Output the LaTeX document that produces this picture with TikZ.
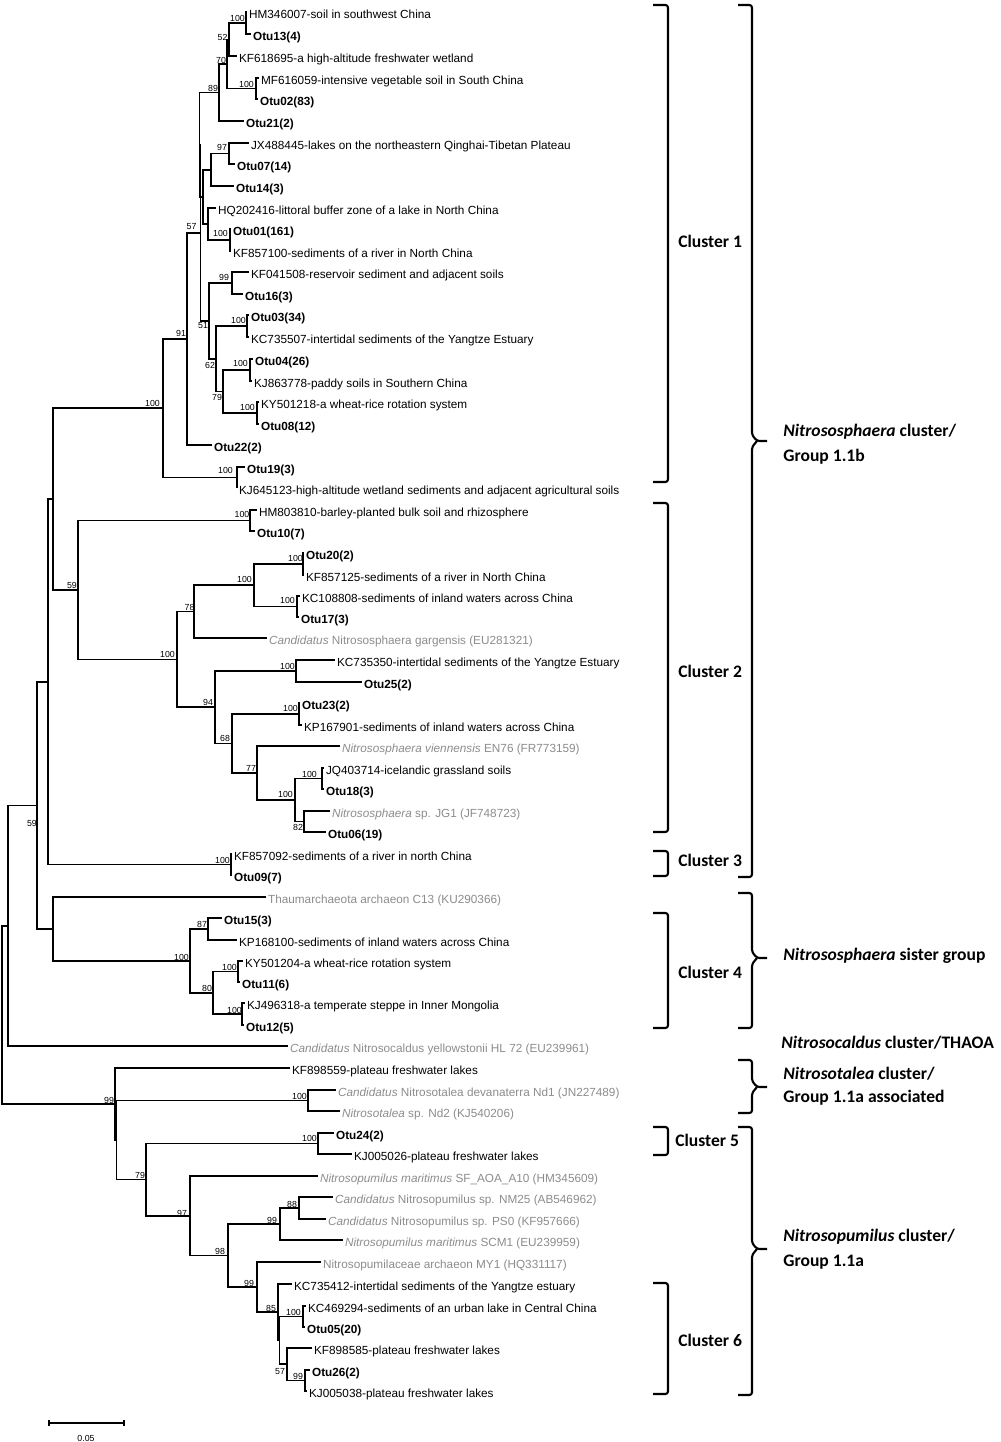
\documentclass[tikz,border=0pt]{standalone}
\usepackage{fontspec}
\setmainfont{Liberation Sans}
\newfontfamily\calfont{Carlito}
\usepackage{xcolor}
\usetikzlibrary{positioning,calc,arrows.meta}
\definecolor{refgrey}{RGB}{140,140,140}
\tikzset{
  br/.style={line width=0.95pt},
  brk/.style={line width=1.2pt, rounded corners=1.5pt},
  leaf/.style={anchor=west, inner xsep=1pt, inner ysep=0pt, text height=0.72em, text depth=0.02em, font=\fontsize{6.7}{7}\selectfont},
  otu/.style={leaf, font=\fontsize{6.7}{7}\selectfont\bfseries},
  ref/.style={leaf, text=refgrey},
  bs/.style={inner sep=0pt, font=\fontsize{5}{5}\selectfont},
  clus/.style={anchor=west, inner sep=0pt, font=\calfont\bfseries\fontsize{10}{12}\selectfont},
}

\begin{document}
\begin{tikzpicture}[x=0.02cm,y=-0.02cm]
\useasboundingbox (0,0) rectangle (1000,1442);
% leaves
\node[leaf] (l01) at (247,12) {HM346007-soil in southwest China};
\node[otu]  (l02) at (251,34) {Otu13(4)};
\node[leaf] (l03) at (237,56) {KF618695-a high-altitude freshwater wetland};
\node[leaf] (l04) at (259,78) {MF616059-intensive vegetable soil in South China};
\node[otu]  (l05) at (258,99) {Otu02(83)};
\node[otu]  (l06) at (244,121) {Otu21(2)};
\node[leaf] (l07) at (249,143) {JX488445-lakes on the northeastern Qinghai-Tibetan Plateau};
\node[otu]  (l08) at (235,164) {Otu07(14)};
\node[otu]  (l09) at (234,186) {Otu14(3)};
\node[leaf] (l10) at (216,208) {HQ202416-littoral buffer zone of a lake in North China};
\node[otu]  (l11) at (231,229) {Otu01(161)};
\node[leaf] (l12) at (231,251) {KF857100-sediments of a river in North China};
\node[leaf] (l13) at (249,272) {KF041508-reservoir sediment and adjacent soils};
\node[otu]  (l14) at (243,294) {Otu16(3)};
\node[otu]  (l15) at (249,315) {Otu03(34)};
\node[leaf] (l16) at (249,337) {KC735507-intertidal sediments of the Yangtze Estuary};
\node[otu]  (l17) at (253,359) {Otu04(26)};
\node[leaf] (l18) at (252,381) {KJ863778-paddy soils in Southern China};
\node[leaf] (l19) at (259,402) {KY501218-a wheat-rice rotation system};
\node[otu]  (l20) at (259,424) {Otu08(12)};
\node[otu]  (l21) at (212,445) {Otu22(2)};
\node[otu]  (l22) at (245,467) {Otu19(3)};
\node[leaf] (l23) at (237,488) {KJ645123-high-altitude wetland sediments and adjacent agricultural soils};
\node[leaf] (l24) at (257,510) {HM803810-barley-planted bulk soil and rhizosphere};
\node[otu]  (l25) at (255,531) {Otu10(7)};
\node[otu]  (l26) at (304,553) {Otu20(2)};
\node[leaf] (l27) at (304,575) {KF857125-sediments of a river in North China};
\node[leaf] (l28) at (300,596) {KC108808-sediments of inland waters across China};
\node[otu]  (l29) at (299,617) {Otu17(3)};
\node[ref]  (l30) at (267,638) {\textit{Candidatus} Nitrososphaera gargensis (EU281321)};
\node[leaf] (l31) at (335,660) {KC735350-intertidal sediments of the Yangtze Estuary};
\node[otu]  (l32) at (362,682) {Otu25(2)};
\node[otu]  (l33) at (300,703) {Otu23(2)};
\node[leaf] (l34) at (302,725) {KP167901-sediments of inland waters across China};
\node[ref]  (l35) at (340,746) {\textit{Nitrososphaera viennensis} EN76 (FR773159)};
\node[leaf] (l36) at (324,768) {JQ403714-icelandic grassland soils};
\node[otu]  (l37) at (324,789) {Otu18(3)};
\node[ref]  (l38) at (330,811) {\textit{Nitrososphaera} sp. JG1 (JF748723)};
\node[otu]  (l39) at (326,832) {Otu06(19)};
\node[leaf] (l40) at (232,854) {KF857092-sediments of a river in north China};
\node[otu]  (l41) at (232,875) {Otu09(7)};
\node[ref]  (l42) at (266,897) {Thaumarchaeota archaeon C13 (KU290366)};
\node[otu]  (l43) at (222,918) {Otu15(3)};
\node[leaf] (l44) at (237,940) {KP168100-sediments of inland waters across China};
\node[leaf] (l45) at (243,961) {KY501204-a wheat-rice rotation system};
\node[otu]  (l46) at (240,982) {Otu11(6)};
\node[leaf] (l47) at (245,1003) {KJ496318-a temperate steppe in Inner Mongolia};
\node[otu]  (l48) at (244,1025) {Otu12(5)};
\node[ref]  (l49) at (288,1046) {\textit{Candidatus} Nitrosocaldus yellowstonii HL 72 (EU239961)};
\node[leaf] (l50) at (290,1068) {KF898559-plateau freshwater lakes};
\node[ref]  (l51) at (336,1090) {\textit{Candidatus} Nitrosotalea devanaterra Nd1 (JN227489)};
\node[ref]  (l52) at (340,1111) {\textit{Nitrosotalea} sp. Nd2 (KJ540206)};
\node[otu]  (l53) at (334,1133) {Otu24(2)};
\node[leaf] (l54) at (352,1154) {KJ005026-plateau freshwater lakes};
\node[ref]  (l55) at (318,1176) {\textit{Nitrosopumilus maritimus} SF\_AOA\_A10 (HM345609)};
\node[ref]  (l56) at (333,1197) {\textit{Candidatus} Nitrosopumilus sp. NM25 (AB546962)};
\node[ref]  (l57) at (326,1219) {\textit{Candidatus} Nitrosopumilus sp. PS0 (KF957666)};
\node[ref]  (l58) at (343,1240) {\textit{Nitrosopumilus maritimus} SCM1 (EU239959)};
\node[ref]  (l59) at (321,1262) {Nitrosopumilaceae archaeon MY1 (HQ331117)};
\node[leaf] (l60) at (292,1284) {KC735412-intertidal sediments of the Yangtze estuary};
\node[leaf] (l61) at (306,1306) {KC469294-sediments of an urban lake in Central China};
\node[otu]  (l62) at (305,1327) {Otu05(20)};
\node[leaf] (l63) at (312,1348) {KF898585-plateau freshwater lakes};
\node[otu]  (l64) at (310,1370) {Otu26(2)};
\node[leaf] (l65) at (307,1391) {KJ005038-plateau freshwater lakes};

% inner nodes
\coordinate (nA1) at (246,23);
\coordinate (nA2) at (229,39.5);
\coordinate (nA3) at (256,88.5);
\coordinate (nA4) at (227,64);
\coordinate (nA5) at (219,92.5);
\coordinate (nB1) at (229,153.5);
\coordinate (nB2) at (211,169.8);
\coordinate (nB3) at (230,240);
\coordinate (nB4) at (208,224);
\coordinate (nB5) at (203,196.9);
\coordinate (nB6) at (199.5,144.7);
\coordinate (nC1) at (232,283);
\coordinate (nC2) at (247,326);
\coordinate (nC3) at (250,370);
\coordinate (nC4) at (257,413);
\coordinate (nC5) at (223,391.5);
\coordinate (nC6) at (216,358.8);
\coordinate (nC7) at (209,320.9);
\coordinate (nD1) at (200.5,232.8);
\coordinate (nD2) at (187,338.9);
\coordinate (nD3) at (237,477.5);
\coordinate (nD4) at (163,408.2);
\coordinate (nE1) at (250,520.5);
\coordinate (nE2) at (303,564);
\coordinate (nE3) at (297,606.5);
\coordinate (nE4) at (254,585.3);
\coordinate (nE5) at (194,611.6);
\coordinate (nE6) at (296,671);
\coordinate (nE7) at (299,714);
\coordinate (nE8) at (322,778.5);
\coordinate (nE9) at (304,821.5);
\coordinate (nE10) at (295,800);
\coordinate (nE11) at (257,773);
\coordinate (nE12) at (232,743.5);
\coordinate (nE13) at (215,707.3);
\coordinate (nE14) at (177,659.4);
\coordinate (nE15) at (78,590);
\coordinate (nF1) at (53,499.1);
\coordinate (nF2) at (231,864.5);
\coordinate (nF3) at (48,681.8);
\coordinate (nG1) at (208,929);
\coordinate (nG2) at (238,971.5);
\coordinate (nG3) at (242,1014);
\coordinate (nG4) at (213,992.8);
\coordinate (nG5) at (190,960.9);
\coordinate (nG6) at (53,929);
\coordinate (nH1) at (37,805.4);
\coordinate (nH2) at (8,925.7);
\coordinate (nJ1) at (308,1100.5);
\coordinate (nJ2) at (318,1143.5);
\coordinate (nJ3) at (299,1208);
\coordinate (nJ4) at (280,1224);
\coordinate (nJ5) at (303,1316.5);
\coordinate (nJ6) at (305,1380.5);
\coordinate (nJ7) at (287,1364.3);
\coordinate (nJ8) at (279.5,1340.4);
\coordinate (nJ9) at (278,1312.2);
\coordinate (nJ10) at (257,1287.1);
\coordinate (nJ11) at (228,1255.5);
\coordinate (nJ12) at (190,1215.8);
\coordinate (nJ13) at (146,1179.6);
\coordinate (nJ14) at (116.5,1140);
\coordinate (nJ15) at (115,1104);
\coordinate (root) at (2,1014.9);

% branches
\draw[br] (nA1) |- (l01.west) (nA1) |- (l02.west);
\draw[br] (nA2) |- (nA1) (nA2) |- (l03.west);
\draw[br] (nA3) |- (l04.west) (nA3) |- (l05.west);
\draw[br] (nA4) |- (nA2) (nA4) |- (nA3);
\draw[br] (nA5) |- (nA4) (nA5) |- (l06.west);
\draw[br] (nB1) |- (l07.west) (nB1) |- (l08.west);
\draw[br] (nB2) |- (nB1) (nB2) |- (l09.west);
\draw[br] (nB3) |- (l11.west) (nB3) |- (l12.west);
\draw[br] (nB4) |- (l10.west) (nB4) |- (nB3);
\draw[br] (nB5) |- (nB2) (nB5) |- (nB4);
\draw[br] (nB6) |- (nA5) (nB6) |- (nB5);
\draw[br] (nC1) |- (l13.west) (nC1) |- (l14.west);
\draw[br] (nC2) |- (l15.west) (nC2) |- (l16.west);
\draw[br] (nC3) |- (l17.west) (nC3) |- (l18.west);
\draw[br] (nC4) |- (l19.west) (nC4) |- (l20.west);
\draw[br] (nC5) |- (nC3) (nC5) |- (nC4);
\draw[br] (nC6) |- (nC2) (nC6) |- (nC5);
\draw[br] (nC7) |- (nC1) (nC7) |- (nC6);
\draw[br] (nD1) |- (nB6) (nD1) |- (nC7);
\draw[br] (nD2) |- (nD1) (nD2) |- (l21.west);
\draw[br] (nD3) |- (l22.west) (nD3) |- (l23.west);
\draw[br] (nD4) |- (nD2) (nD4) |- (nD3);
\draw[br] (nE1) |- (l24.west) (nE1) |- (l25.west);
\draw[br] (nE2) |- (l26.west) (nE2) |- (l27.west);
\draw[br] (nE3) |- (l28.west) (nE3) |- (l29.west);
\draw[br] (nE4) |- (nE2) (nE4) |- (nE3);
\draw[br] (nE5) |- (nE4) (nE5) |- (l30.west);
\draw[br] (nE6) |- (l31.west) (nE6) |- (l32.west);
\draw[br] (nE7) |- (l33.west) (nE7) |- (l34.west);
\draw[br] (nE8) |- (l36.west) (nE8) |- (l37.west);
\draw[br] (nE9) |- (l38.west) (nE9) |- (l39.west);
\draw[br] (nE10) |- (nE8) (nE10) |- (nE9);
\draw[br] (nE11) |- (l35.west) (nE11) |- (nE10);
\draw[br] (nE12) |- (nE7) (nE12) |- (nE11);
\draw[br] (nE13) |- (nE6) (nE13) |- (nE12);
\draw[br] (nE14) |- (nE5) (nE14) |- (nE13);
\draw[br] (nE15) |- (nE1) (nE15) |- (nE14);
\draw[br] (nF1) |- (nD4) (nF1) |- (nE15);
\draw[br] (nF2) |- (l40.west) (nF2) |- (l41.west);
\draw[br] (nF3) |- (nF1) (nF3) |- (nF2);
\draw[br] (nG1) |- (l43.west) (nG1) |- (l44.west);
\draw[br] (nG2) |- (l45.west) (nG2) |- (l46.west);
\draw[br] (nG3) |- (l47.west) (nG3) |- (l48.west);
\draw[br] (nG4) |- (nG2) (nG4) |- (nG3);
\draw[br] (nG5) |- (nG1) (nG5) |- (nG4);
\draw[br] (nG6) |- (l42.west) (nG6) |- (nG5);
\draw[br] (nH1) |- (nF3) (nH1) |- (nG6);
\draw[br] (nH2) |- (nH1) (nH2) |- (l49.west);
\draw[br] (nJ1) |- (l51.west) (nJ1) |- (l52.west);
\draw[br] (nJ2) |- (l53.west) (nJ2) |- (l54.west);
\draw[br] (nJ3) |- (l56.west) (nJ3) |- (l57.west);
\draw[br] (nJ4) |- (nJ3) (nJ4) |- (l58.west);
\draw[br] (nJ5) |- (l61.west) (nJ5) |- (l62.west);
\draw[br] (nJ6) |- (l64.west) (nJ6) |- (l65.west);
\draw[br] (nJ7) |- (l63.west) (nJ7) |- (nJ6);
\draw[br] (nJ8) |- (nJ5) (nJ8) |- (nJ7);
\draw[br] (nJ9) |- (l60.west) (nJ9) |- (nJ8);
\draw[br] (nJ10) |- (l59.west) (nJ10) |- (nJ9);
\draw[br] (nJ11) |- (nJ4) (nJ11) |- (nJ10);
\draw[br] (nJ12) |- (l55.west) (nJ12) |- (nJ11);
\draw[br] (nJ13) |- (nJ2) (nJ13) |- (nJ12);
\draw[br] (nJ14) |- (nJ1) (nJ14) |- (nJ13);
\draw[br] (nJ15) |- (l50.west) (nJ15) |- (nJ14);
\draw[br] (root) |- (nH2) (root) |- (nJ15);

% bootstrap values
\node[bs] (bA1) at (237.5,18) {100};
\node[bs] (bA2) at (222.5,37) {52};
\node[bs] (bA4) at (221,60) {70};
\node[bs] (bA3) at (246.5,84) {100};
\node[bs] (bA5) at (213,88) {89};
\node[bs] (bB1) at (222,147) {97};
\node[bs] (bD1) at (191.5,227) {57};
\node[bs] (bB3) at (220.5,233) {100};
\node[bs] (bC1) at (224,277) {99};
\node[bs] (bC7) at (203,326) {51};
\node[bs] (bC2) at (238.5,320) {100};
\node[bs] (bC6) at (210,365) {62};
\node[bs] (bC3) at (240.5,363) {100};
\node[bs] (bC5) at (217,397) {79};
\node[bs] (bC4) at (247.5,407) {100};
\node[bs] (bD2) at (181,333) {91};
\node[bs] (bD4) at (152.5,403) {100};
\node[bs] (bD3) at (225.5,470) {100};
\node[bs] (bE1) at (242,514) {100};
\node[bs] (bE15) at (72,585) {59};
\node[bs] (bE14) at (167.5,654) {100};
\node[bs] (bE5) at (189.5,607) {78};
\node[bs] (bE4) at (244.5,579) {100};
\node[bs] (bE2) at (295.5,558) {100};
\node[bs] (bE3) at (287.5,600) {100};
\node[bs] (bE6) at (287.5,666) {100};
\node[bs] (bE13) at (208,702) {94};
\node[bs] (bE7) at (290.5,708) {100};
\node[bs] (bE12) at (225,738) {68};
\node[bs] (bE11) at (251,768) {77};
\node[bs] (bE10) at (285.5,794) {100};
\node[bs] (bE8) at (309.5,774) {100};
\node[bs] (bE9) at (298,827) {82};
\node[bs] (bF2) at (222.5,860) {100};
\node[bs] (bH1) at (32,823) {59};
\node[bs] (bG5) at (181.5,957) {100};
\node[bs] (bG1) at (202,924) {87};
\node[bs] (bG4) at (207,988) {80};
\node[bs] (bG2) at (229.5,967) {100};
\node[bs] (bG3) at (234.5,1010) {100};
\node[bs] (bJ15) at (109,1100) {99};
\node[bs] (bJ1) at (299.5,1096) {100};
\node[bs] (bJ13) at (140,1175) {79};
\node[bs] (bJ2) at (309.5,1138) {100};
\node[bs] (bJ12) at (182,1213) {97};
\node[bs] (bJ11) at (220,1251) {98};
\node[bs] (bJ4) at (272,1220) {99};
\node[bs] (bJ3) at (292,1204) {88};
\node[bs] (bJ10) at (249,1283) {99};
\node[bs] (bJ9) at (271,1308) {85};
\node[bs] (bJ5) at (293.5,1312) {100};
\node[bs] (bJ7) at (280,1372) {57};
\node[bs] (bJ6) at (298,1376) {99};

% cluster brackets
\draw[brk] (653,5) -- (668,5) -- (668,482) -- (653,482);
\draw[brk] (653,503) -- (668,503) -- (668,832) -- (653,832);
\draw[brk] (653,851) -- (668,851) -- (668,876) -- (653,876);
\draw[brk] (653,913) -- (668,913) -- (668,1028) -- (653,1028);
\draw[brk] (653,1127) -- (668,1127) -- (668,1155) -- (653,1155);
\draw[brk] (653,1283) -- (668,1283) -- (668,1394) -- (653,1394);
\node[clus] (c1) at (678,241) {Cluster 1};
\node[clus] (c2) at (678,671) {Cluster 2};
\node[clus] (c3) at (678,860) {Cluster 3};
\node[clus] (c4) at (678,972) {Cluster 4};
\node[clus] (c5) at (675,1140) {Cluster 5};
\node[clus] (c6) at (678,1340) {Cluster 6};

% group braces
\draw[brk] (738,5) -- (752,5) -- (752,435) -- (757,441) -- (767,441);
\draw[brk] (757,441) -- (752,447) -- (752,877) -- (738,877);
\draw[brk] (738,893) -- (752,893) -- (752,952) -- (757,958) -- (767,958);
\draw[brk] (757,958) -- (752,964) -- (752,1028) -- (738,1028);
\draw[brk] (738,1060) -- (752,1060) -- (752,1081) -- (757,1087) -- (767,1087);
\draw[brk] (757,1087) -- (752,1093) -- (752,1113) -- (738,1113);
\draw[brk] (738,1127) -- (752,1127) -- (752,1243) -- (757,1249) -- (767,1249);
\draw[brk] (757,1249) -- (752,1255) -- (752,1395) -- (738,1395);
\node[clus] (g1a) at (783,432) {\textit{Nitrososphaera} cluster/};
\node[clus] (g1b) at (783,457) {Group 1.1b};
\node[clus] (g2) at (783,956) {\textit{Nitrososphaera} sister group};
\node[clus] (g3) at (781,1043) {\textit{Nitrosocaldus} cluster/THAOA};
\node[clus] (g4a) at (783,1074) {\textit{Nitrosotalea} cluster/};
\node[clus] (g4b) at (783,1098) {Group 1.1a associated};
\node[clus] (g5a) at (783,1237) {\textit{Nitrosopumilus} cluster/};
\node[clus] (g5b) at (783,1262) {Group 1.1a};

% scale bar
\coordinate (sbL) at (48,1423);
\coordinate (sbR) at (125,1423);
\draw[br, {Bar[width=3.4pt]}-{Bar[width=3.4pt]}] (sbL) -- (sbR);
\node[bs] (sbT) at (86,1438) {0.05};
\end{tikzpicture}
\end{document}
